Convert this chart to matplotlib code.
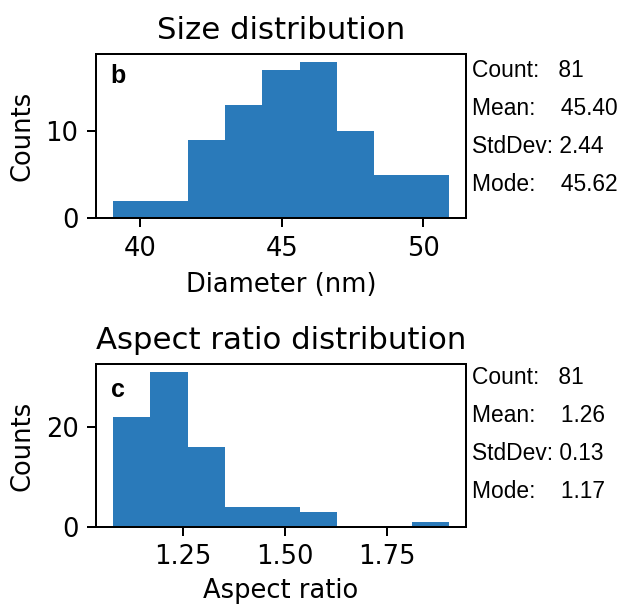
import numpy as np
import matplotlib
matplotlib.use("Agg")
import matplotlib.pyplot as plt

# ---- data ----
size_edges = np.linspace(39.04, 50.91, 10)
size_counts = [2, 2, 9, 13, 17, 18, 10, 5, 5]
size_stats = {"count": 81, "mean": 45.40, "std": 2.44, "mode": 45.62}
size_xticks = [40, 45, 50]
size_yticks = [0, 10]

ar_edges = np.linspace(1.0767, 1.9038, 10)
ar_counts = [22, 31, 16, 4, 4, 3, 0, 0, 1]
ar_stats = {"count": 81, "mean": 1.26, "std": 0.13, "mode": 1.17}
ar_xticks = [1.25, 1.50, 1.75]
ar_yticks = [0, 20]

BAR = "#2a7aba"
DPI = 180
fig = plt.figure(figsize=(623 / DPI, 604 / DPI), dpi=DPI)
plt.rcParams["font.family"] = ["DejaVu Sans"]

ax1 = fig.add_axes([96 / 623, 1 - 218 / 604, 370 / 623, 164 / 604])
ax2 = fig.add_axes([96 / 623, 1 - 527 / 604, 370 / 623, 163 / 604])


def draw(ax, edges, counts, stats, xticks, yticks, title, xlabel, letter,
         xfmt, txt_y, letter_y, xpad):
    edges = np.asarray(edges)
    ax.bar(edges[:-1], counts, width=np.diff(edges), align="edge",
           color=BAR, linewidth=0)
    ax.set_xticks(xticks)
    ax.set_xticklabels([xfmt.format(v) for v in xticks])
    ax.set_yticks(yticks)
    ax.tick_params(labelsize=10.3)
    ax.set_title(title, fontsize=12.3, pad=6)
    ax.set_xlabel(xlabel, fontsize=10.3, labelpad=xpad)
    ax.set_ylabel("Counts", fontsize=10.3)
    ax.text(0.04, letter_y, letter, transform=ax.transAxes,
            fontsize=10, fontweight="bold", family="Liberation Sans",
            va="baseline", ha="left")
    s = (f"Count:   {stats['count']}\n"
         f"Mean:    {stats['mean']:.2f}\n"
         f"StdDev: {stats['std']:.2f}\n"
         f"Mode:    {stats['mode']:.2f}")
    ax.text(1.017, txt_y, s, transform=ax.transAxes, fontsize=9.1,
            family="Liberation Sans", va="baseline", ha="left",
            linespacing=1.84)


draw(ax1, size_edges, size_counts, size_stats, size_xticks, size_yticks,
     "Size distribution", "Diameter (nm)", "b", "{:g}", 0.165, 0.823, 4.0)
draw(ax2, ar_edges, ar_counts, ar_stats, ar_xticks, ar_yticks,
     "Aspect ratio distribution", "Aspect ratio", "c", "{:.2f}", 0.178, 0.80,
     3.0)

fig.savefig("out.png", dpi=DPI)
